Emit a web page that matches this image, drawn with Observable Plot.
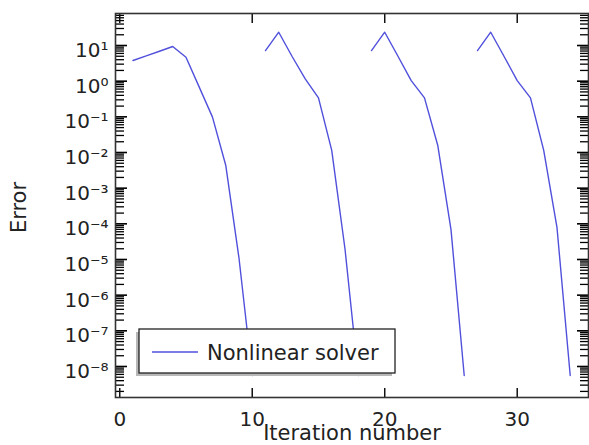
<!DOCTYPE html>
<html>
<head>
<meta charset="utf-8">
<script src="https://cdn.jsdelivr.net/npm/d3@7"></script>
<script src="https://cdn.jsdelivr.net/npm/@observablehq/plot@0.6"></script>
<style>
  html, body { margin: 0; padding: 0; background: #fff; }
  #chart { width: 589px; height: 445px; overflow: hidden; }
</style>
</head>
<body>
<div id="chart"></div>
<script>
// ---- data ----
const iteration = [1,2,3,4,5,6,7,8,9,10, 11,12,13,14,15,16,17,18, 19,20,21,22,23,24,25,26, 27,28,29,30,31,32,33,34];
const errorValue = [
  3.8, 5.1, 6.9, 9.4, 4.7, 0.68, 0.098, 4.4e-3, 1.1e-5, 5.6e-9,
  7.2, 23.6, 5.0, 1.16, 0.34, 0.0115, 2e-5, 5.6e-9,
  7.2, 23.6, 5.0, 1.04, 0.34, 0.016, 7e-5, 5.6e-9,
  7.2, 23.6, 5.0, 1.04, 0.34, 0.0115, 8e-5, 5.6e-9
];
const restart = [1,1,1,1,1,1,1,1,1,1, 2,2,2,2,2,2,2,2, 3,3,3,3,3,3,3,3, 4,4,4,4,4,4,4,4];

const xTicks = [0, 10, 20, 30];
const xTickLabels = ["0", "10", "20", "30"];
const yTicks = [1e1, 1e0, 1e-1, 1e-2, 1e-3, 1e-4, 1e-5, 1e-6, 1e-7, 1e-8];
const yTickLabels = ["10\u00b9", "10\u2070", "10\u207b\u00b9", "10\u207b\u00b2", "10\u207b\u00b3", "10\u207b\u2074", "10\u207b\u2075", "10\u207b\u2076", "10\u207b\u2077", "10\u207b\u2078"];
const xLabel = "Iteration number";
const yLabel = "Error";
const legendLabel = "Nonlinear solver";

const data = iteration.map((x, i) => ({iteration: x, error: errorValue[i], restart: restart[i]}));

// minor log ticks (2..9 per decade) inside the domain
const yDomain = [1.35e-9, 79];
const yMinor = [];
for (let k = -10; k <= 2; k++) {
  for (let m = 2; m <= 9; m++) {
    const v = m * Math.pow(10, k);
    if (v >= yDomain[0] && v <= yDomain[1]) yMinor.push(v);
  }
}

const lineColor = "#5050dc";
const inkColor = "#222";

const plot = Plot.plot({
  width: 589,
  height: 445,
  marginLeft: 115,
  marginRight: 1,
  marginTop: 13,
  marginBottom: 48,
  style: {fontFamily: "'DejaVu Sans', sans-serif", fontSize: "20px", color: inkColor, background: "#fff", overflow: "visible"},
  x: {domain: [-0.32, 35.38]},
  y: {type: "log", domain: yDomain},
  marks: [
    Plot.line(data, {x: "iteration", y: "error", z: "restart", stroke: lineColor, strokeWidth: 1.4}),
    // y tick labels
    Plot.axisY({anchor: "left", ticks: yTicks, tickSize: 0, tickPadding: 7, dy: 5,
      tickFormat: d => yTickLabels[yTicks.indexOf(d)], label: null, fill: inkColor}),
    // inward y ticks, left and right
    Plot.axisY({anchor: "left", ticks: yTicks, tickSize: -12, tickFormat: () => "", label: null, stroke: "#000", strokeWidth: 1.6}),
    Plot.axisY({anchor: "left", ticks: yMinor, tickSize: -9, tickFormat: () => "", label: null, stroke: "#000", strokeWidth: 1.3}),
    Plot.axisY({anchor: "right", ticks: yTicks, tickSize: -12, tickFormat: () => "", label: null, stroke: "#000", strokeWidth: 1.6}),
    Plot.axisY({anchor: "right", ticks: yMinor, tickSize: -9, tickFormat: () => "", label: null, stroke: "#000", strokeWidth: 1.3}),
    // x ticks and labels
    Plot.axisX({anchor: "bottom", ticks: xTicks, tickSize: 0, tickPadding: 14,
      tickFormat: d => xTickLabels[xTicks.indexOf(d)], label: null, fill: inkColor}),
    Plot.axisX({anchor: "bottom", ticks: xTicks, tickSize: -9, tickFormat: () => "", label: null, stroke: "#111", strokeWidth: 1.5}),
    Plot.axisX({anchor: "top", ticks: xTicks, tickSize: -9, tickFormat: () => "", label: null, stroke: "#111", strokeWidth: 1.5}),
    Plot.frame({stroke: "#333", strokeWidth: 1.6}),
    // axis titles
    Plot.text([xLabel], {frameAnchor: "bottom", text: d => d, dy: 36, lineAnchor: "middle", textAnchor: "middle", fontSize: 21, fill: inkColor}),
    Plot.text([yLabel], {frameAnchor: "left", text: d => d, rotate: -90, dx: -96, dy: 2, lineAnchor: "middle", textAnchor: "middle", fontSize: 21, fill: inkColor})
  ]
});

// legend box drawn inside the plot area (lower left)
const svg = d3.select(plot);
const lg = svg.append("g").attr("class", "legend");
lg.append("rect").attr("x", 136).attr("y", 332).attr("width", 256).attr("height", 44)
  .attr("fill", "#b8b8b8");
lg.append("rect").attr("x", 139).attr("y", 329).attr("width", 256).attr("height", 44)
  .attr("fill", "#fff").attr("stroke", "#222").attr("stroke-width", 1.3);
lg.append("line").attr("x1", 152).attr("x2", 198).attr("y1", 352).attr("y2", 352)
  .attr("stroke", lineColor).attr("stroke-width", 1.6);
lg.append("text").attr("x", 207).attr("y", 360).attr("fill", inkColor)
  .attr("text-anchor", "start")
  .style("font-family", "'DejaVu Sans', sans-serif").style("font-size", "21px")
  .text(legendLabel);

document.getElementById("chart").appendChild(plot);
</script>
</body>
</html>
